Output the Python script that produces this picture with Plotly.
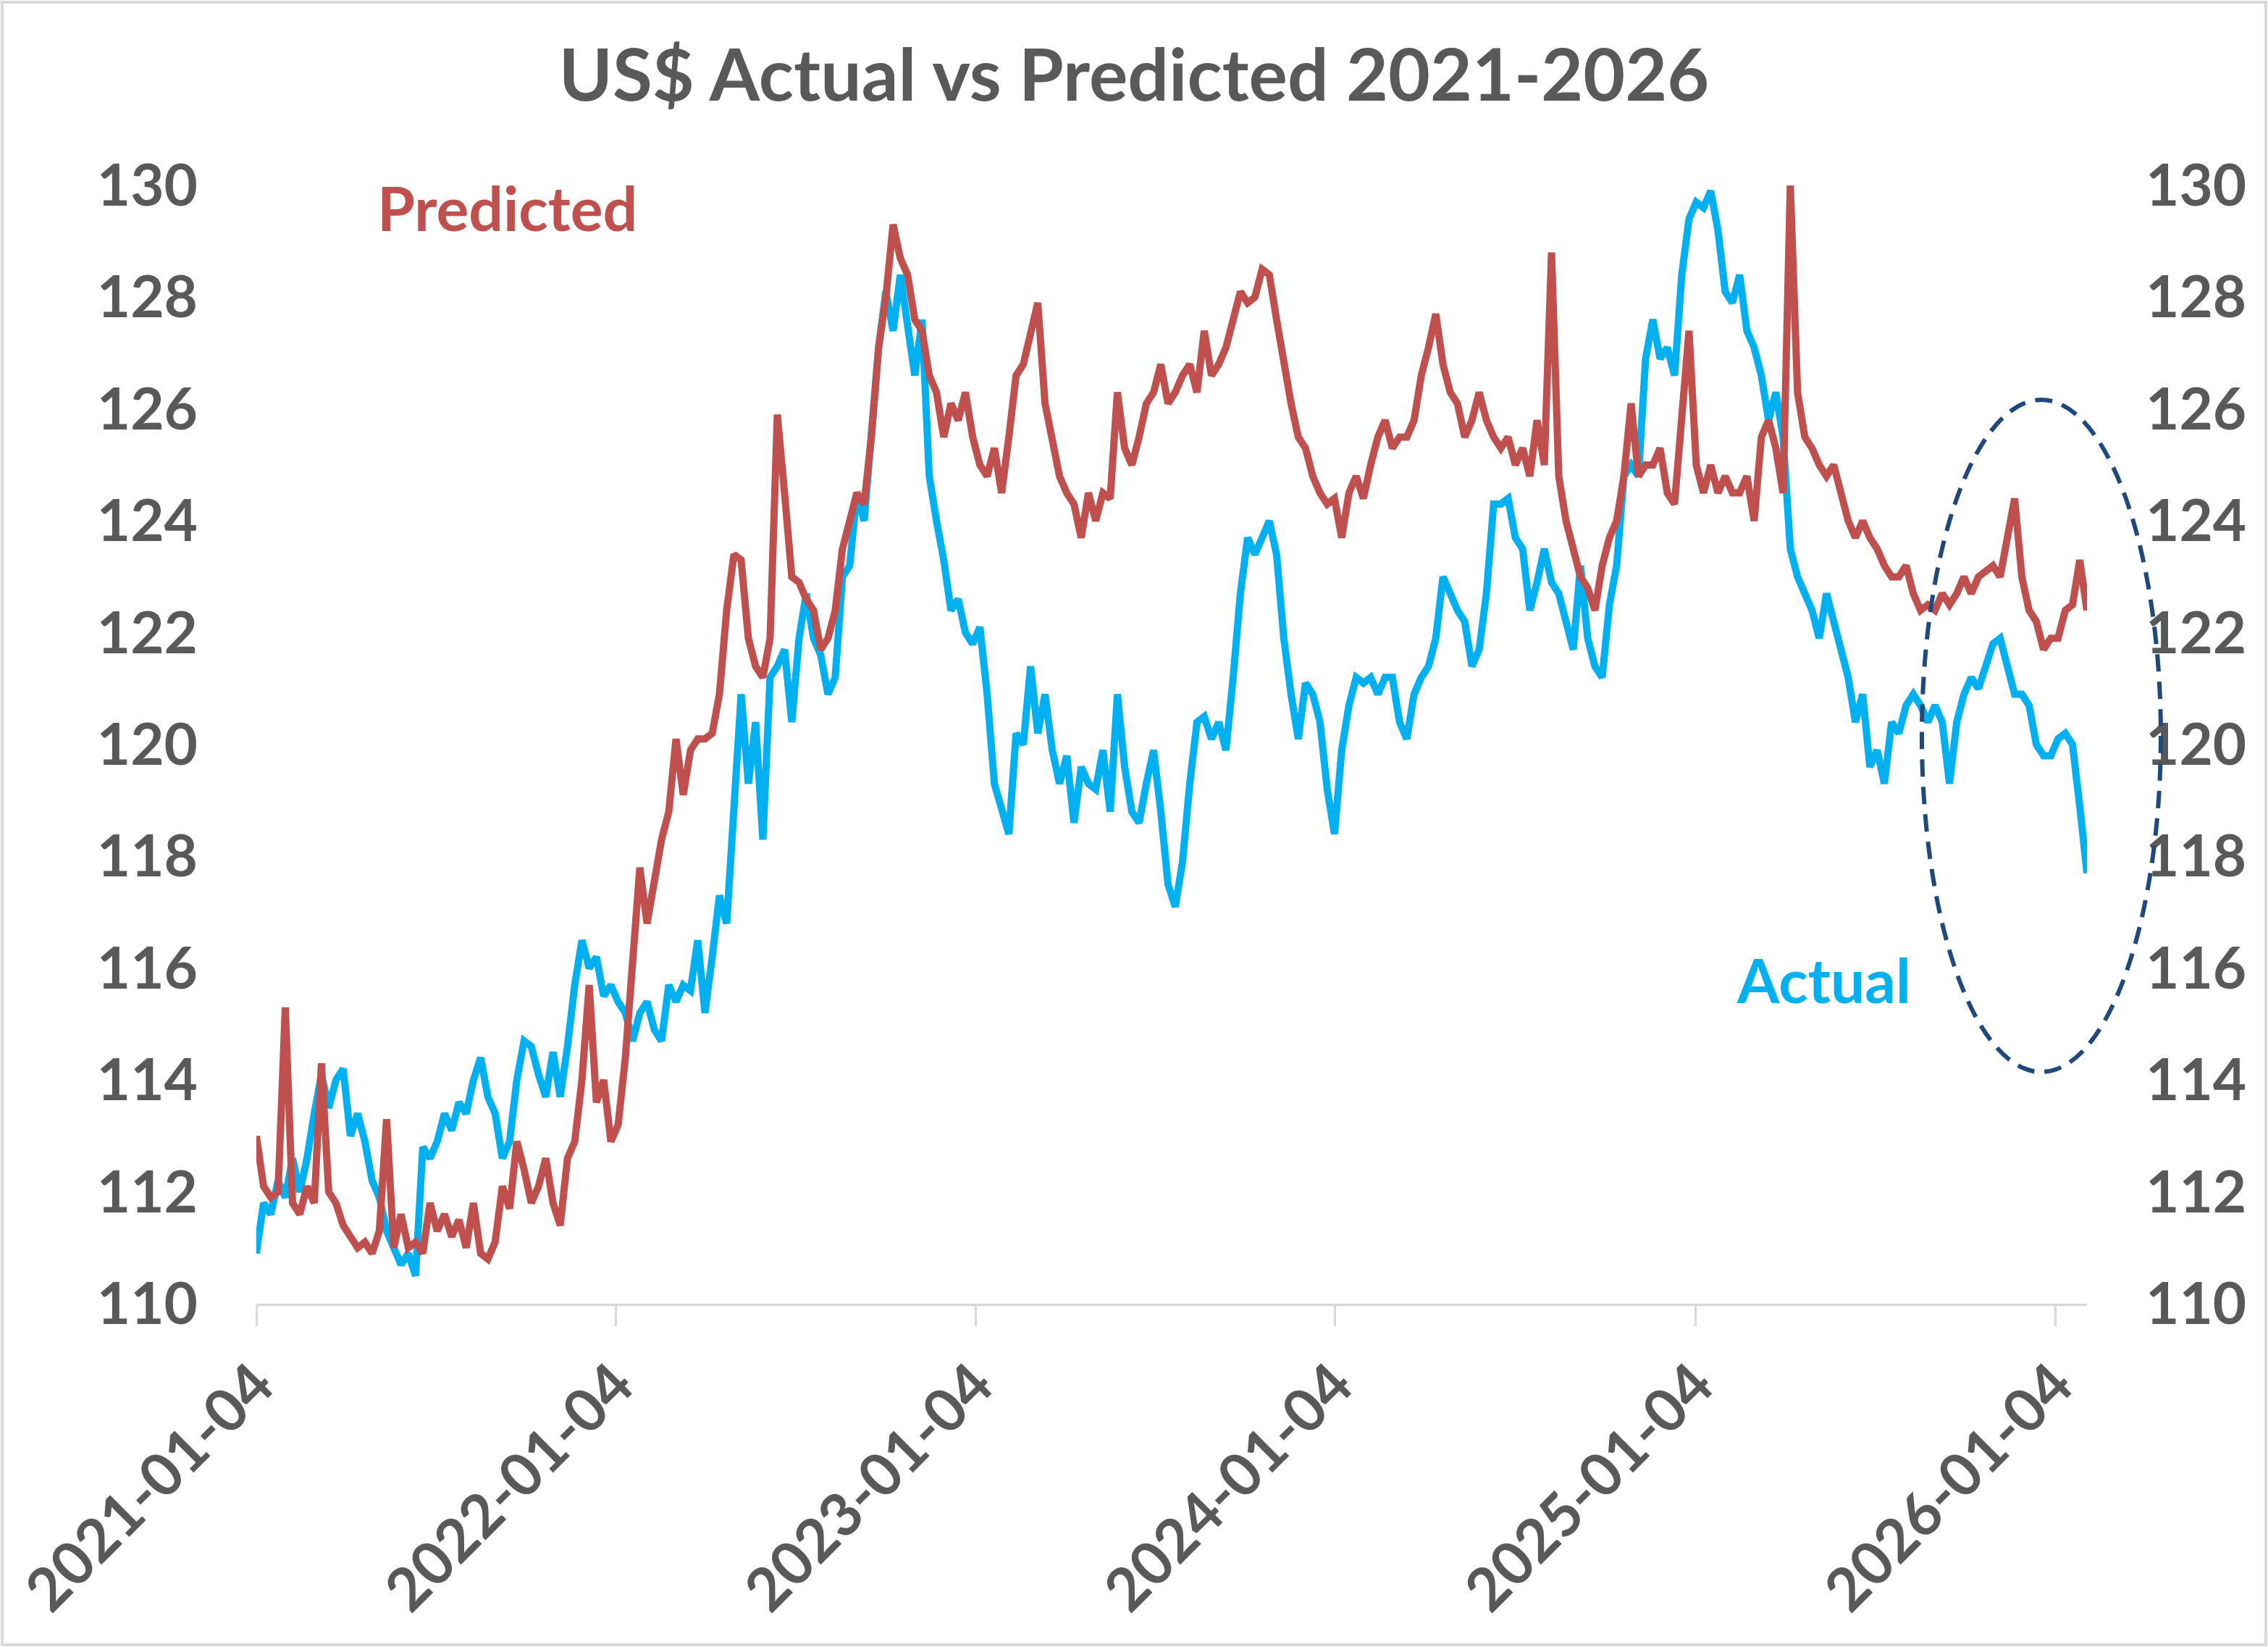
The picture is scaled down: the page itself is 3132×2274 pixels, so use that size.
import pandas as pd
import plotly.graph_objects as go

# ---- data (~weekly samples) ----
start_date = "2021-01-04"
end_date = "2026-02-05"

actual = [
    110.9,
    111.8, 111.6, 112.2, 111.9, 112.6, 112.0, 112.6, 113.4, 114.1, 113.5,
    114.0, 114.2, 113.0, 113.4, 112.9, 112.2, 111.9, 111.3, 111.0, 110.7,
    110.9, 110.5, 112.8, 112.6, 112.9, 113.4, 113.1, 113.6, 113.4, 114.0,
    114.4, 113.7, 113.4, 112.6, 112.9, 114.0, 114.7, 114.6, 114.1, 113.7,
    114.5, 113.7, 114.6, 115.7, 116.5, 116.0, 116.2, 115.5, 115.7, 115.4,
    115.2, 114.7, 115.2, 115.4, 114.9, 114.7, 115.7, 115.4, 115.7, 115.6,
    116.5, 115.2, 116.2, 117.3, 116.8, 118.8, 120.9, 119.3, 120.4, 118.3,
    121.2, 121.4, 121.7, 120.4, 121.9, 122.7, 121.9, 121.6, 120.9, 121.2,
    123.0, 123.2, 124.5, 124.0, 125.5, 127.1, 128.1, 127.4, 128.4, 127.6,
    126.6, 127.6, 124.8, 124.0, 123.3, 122.4, 122.6, 122.0, 121.8, 122.1,
    120.9, 119.3, 118.8, 118.4, 120.2, 120.0, 121.4, 120.2, 120.9, 119.9,
    119.3, 119.8, 118.6, 119.6, 119.3, 119.2, 119.9, 118.8, 120.9, 119.6,
    118.8, 118.6, 119.3, 119.9, 118.8, 117.5, 117.1, 117.9, 119.3, 120.4,
    120.5, 120.1, 120.4, 119.9, 121.2, 122.7, 123.7, 123.4, 123.7, 124.0,
    123.4, 121.9, 120.9, 120.1, 121.1, 120.9, 120.4, 119.2, 118.4, 119.9,
    120.7, 121.2, 121.1, 121.2, 120.9, 121.2, 121.2, 120.4, 120.1, 120.9,
    121.2, 121.4, 121.9, 123.0, 122.7, 122.4, 122.2, 121.4, 121.7, 122.7,
    124.3, 124.3, 124.4, 123.7, 123.5, 122.4, 122.9, 123.5, 122.9, 122.7,
    122.2, 121.7, 123.2, 121.9, 121.4, 121.2, 122.5, 123.2, 124.8, 125.0,
    124.8, 126.9, 127.6, 126.9, 127.1, 126.6, 128.4, 129.4, 129.7, 129.6,
    129.9, 129.2, 128.1, 127.9, 128.4, 127.4, 127.1, 126.6, 125.8, 126.3,
    125.5, 123.5, 123.0, 122.7, 122.4, 121.9, 122.7, 122.2, 121.7, 121.2,
    120.4, 120.9, 119.6, 119.9, 119.3, 120.4, 120.2, 120.7, 120.9, 120.7,
    120.4, 120.7, 120.4, 119.3, 120.4, 120.9, 121.2, 121.0, 121.4, 121.8,
    121.9, 121.4, 120.9, 120.9, 120.7, 120.0, 119.8, 119.8, 120.1, 120.2,
    120.0, 118.9, 117.7,
]

predicted = [
    113.0,
    112.1, 111.9, 112.0, 115.3, 111.8, 111.6, 112.1, 111.8, 114.3, 112.0,
    111.8, 111.4, 111.2, 111.0, 111.1, 110.9, 111.3, 113.3, 111.0, 111.6,
    111.0, 111.1, 110.9, 111.8, 111.3, 111.6, 111.2, 111.5, 111.0, 111.8,
    110.9, 110.8, 111.1, 112.1, 111.7, 112.9, 112.4, 111.8, 112.1, 112.6,
    111.8, 111.4, 112.6, 112.9, 114.0, 115.7, 113.6, 114.0, 112.9, 113.2,
    114.4, 116.2, 117.8, 116.8, 117.5, 118.3, 118.8, 120.1, 119.1, 119.9,
    120.1, 120.1, 120.2, 120.9, 122.4, 123.4, 123.3, 121.9, 121.4, 121.2,
    121.9, 125.9, 124.5, 123.0, 122.9, 122.6, 122.4, 121.7, 121.9, 122.4,
    123.5, 124.0, 124.5, 124.3, 125.5, 127.1, 128.0, 129.3, 128.7, 128.4,
    127.6, 127.4, 126.6, 126.3, 125.5, 126.1, 125.8, 126.3, 125.5, 125.0,
    124.8, 125.3, 124.5, 125.5, 126.6, 126.8, 127.4, 127.9, 126.1, 125.5,
    124.8, 124.5, 124.3, 123.7, 124.5, 124.0, 124.5, 124.4, 126.3, 125.3,
    125.0, 125.5, 126.1, 126.3, 126.8, 126.1, 126.3, 126.6, 126.8, 126.3,
    127.4, 126.6, 126.8, 127.1, 127.6, 128.1, 127.9, 128.0, 128.5, 128.4,
    127.6, 126.8, 126.1, 125.5, 125.3, 124.8, 124.5, 124.3, 124.4, 123.7,
    124.5, 124.8, 124.4, 125.0, 125.5, 125.8, 125.3, 125.5, 125.5, 125.8,
    126.6, 127.1, 127.7, 126.8, 126.3, 126.1, 125.5, 125.8, 126.3, 125.8,
    125.5, 125.3, 125.5, 125.0, 125.3, 124.8, 125.8, 125.0, 128.8, 124.8,
    124.0, 123.5, 123.0, 122.8, 122.4, 123.2, 123.7, 124.0, 124.8, 126.1,
    124.8, 125.0, 125.0, 125.3, 124.5, 124.3, 125.8, 127.4, 125.0, 124.5,
    125.0, 124.5, 124.8, 124.5, 124.5, 124.8, 124.0, 125.5, 125.8, 125.3,
    124.5, 130.0, 126.3, 125.5, 125.3, 125.0, 124.8, 125.0, 124.5, 124.0,
    123.7, 124.0, 123.7, 123.5, 123.2, 123.0, 123.0, 123.2, 122.7, 122.4,
    122.5, 122.4, 122.7, 122.5, 122.7, 123.0, 122.7, 123.0, 123.1, 123.2,
    123.0, 123.7, 124.4, 123.0, 122.4, 122.2, 121.7, 121.9, 121.9, 122.4,
    122.5, 123.3, 122.4,
]

tick_dates = ["2021-01-04", "2022-01-04", "2023-01-04", "2024-01-04", "2025-01-04", "2026-01-04"]
y_ticks = [110, 112, 114, 116, 118, 120, 122, 124, 126, 128, 130]

dates = pd.date_range(start_date, end_date, periods=len(actual))

# ---- style ----
W, H = 3132, 2274
L, R, T, B = 354, 250, 256, 474
PW, PH = W - L - R, H - T - B
FONT = "Lato, 'Open Sans', sans-serif"
GRAY = "#595959"
RED = "#C0504D"
BLUE = "#00B0F0"
NAVY = "#1F497D"
AXIS_GRAY = "#D9D9D9"

fig = go.Figure()
fig.add_trace(go.Scatter(x=dates, y=actual, mode="lines", name="Actual",
                         line=dict(color=BLUE, width=10), yaxis="y"))
fig.add_trace(go.Scatter(x=dates, y=predicted, mode="lines", name="Predicted",
                         line=dict(color=RED, width=10), yaxis="y2"))

ytickfont = dict(family=FONT, size=80, color=GRAY, weight="bold")
xtickfont = dict(family=FONT, size=82, color=GRAY, weight="bold")

fig.update_layout(
    width=W, height=H, autosize=False,
    margin=dict(l=L, r=R, t=T, b=B, autoexpand=False),
    paper_bgcolor="white", plot_bgcolor="white",
    showlegend=False,
    title=dict(text="US$ Actual vs Predicted 2021-2026", x=0.5, xref="container",
               xanchor="center", y=1 - 104 / H, yref="container", yanchor="middle",
               font=dict(family=FONT, size=100, color=GRAY, weight="bold")),
    xaxis=dict(type="date", range=[start_date, end_date],
               tickvals=tick_dates, ticktext=tick_dates, tickangle=-45,
               ticklabeloverflow="allow",
               showline=True, linecolor=AXIS_GRAY, linewidth=3,
               ticks="outside", ticklen=28, tickcolor=AXIS_GRAY, tickwidth=3,
               showgrid=False, zeroline=False, tickfont=xtickfont),
    yaxis=dict(range=[110, 130], tickvals=y_ticks, showgrid=False, zeroline=False,
               showline=False, ticks="", tickfont=ytickfont, ticklabelstandoff=80),
    yaxis2=dict(range=[110, 130], tickvals=y_ticks, overlaying="y", side="right",
                showgrid=False, zeroline=False, showline=False, ticks="",
                tickfont=ytickfont, ticklabelstandoff=80),
)

# outer border of the chart area
fig.add_shape(type="rect", xref="paper", yref="paper",
              x0=(3 - L) / PW, x1=(W - 3 - L) / PW,
              y0=-(B - 3) / PH, y1=(PH + T - 3) / PH,
              line=dict(color=AXIS_GRAY, width=4), fillcolor="rgba(0,0,0,0)", layer="below")

# dashed ellipse highlighting the latest period
fig.add_shape(type="circle", xref="paper", yref="paper",
              x0=(2654 - L) / PW, x1=(2984 - L) / PW,
              y0=(H - B - 1480) / PH, y1=(H - B - 552) / PH,
              line=dict(color=NAVY, width=6, dash="24px,14px"), layer="above")

fig.add_annotation(text="Predicted", x="2021-05-05", y=129.6, xref="x", yref="y",
                   xanchor="left", yanchor="middle", showarrow=False,
                   font=dict(family=FONT, size=84, color=RED, weight="bold"))
fig.add_annotation(text="Actual", x="2025-02-13", y=115.8, xref="x", yref="y",
                   xanchor="left", yanchor="middle", showarrow=False,
                   font=dict(family=FONT, size=84, color=BLUE, weight="bold"))

fig.write_html("out.html", config={"displayModeBar": False},
               post_script="document.body.style.margin='0';")
